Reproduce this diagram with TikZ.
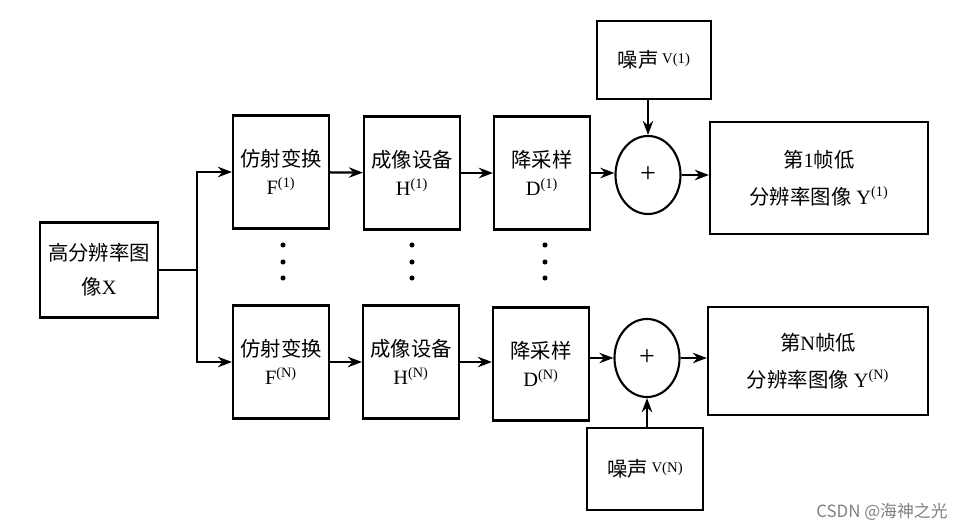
\documentclass[tikz,border=0pt]{standalone}
\usepackage{fontspec}
\setmainfont{Liberation Serif}
\newfontfamily\cjk{Noto Sans CJK SC}
\usetikzlibrary{shapes.geometric, arrows.meta, positioning, calc}
\tikzset{
  procbox/.style={rectangle, draw, line width=1.5pt, minimum width=2.4cm, minimum height=2.825cm, align=center, font=\fontsize{14.5}{20}\selectfont},
  inbox/.style={rectangle, draw, line width=1.5pt, minimum width=2.95cm, minimum height=2.375cm, align=center, font=\fontsize{14.5}{24}\selectfont},
  noisebox/.style={rectangle, draw, line width=1.5pt, minimum width=2.85cm, minimum height=1.95cm, align=center, font=\fontsize{14.5}{19}\selectfont},
  outbox/.style={rectangle, draw, line width=1.5pt, minimum width=5.45cm, minimum height=2.8cm, align=center, font=\fontsize{14.5}{26}\selectfont},
  sumnode/.style={ellipse, draw, line width=1.5pt, minimum width=1.625cm, minimum height=1.95cm, font=\fontsize{20}{22}\selectfont},
  arr/.style={-{Stealth[length=3.5mm, width=2.6mm]}, line width=1.6pt},
}
\newcommand{\noiselbl}[1]{{\cjk 噪声}\,\raisebox{0.45ex}{\fontsize{10.5}{12}\selectfont V(#1)}}

\begin{document}
\begin{tikzpicture}[x=0.025cm, y=-0.025cm]
  \useasboundingbox (0,0) rectangle (967,530);

  % Input
  \node[inbox] (X) at (99,270) {{\cjk 高分辨率图}\\{\cjk 像}X};
  \coordinate (split) at (197,270);

  % Frame 1
  \node[procbox] (F1) at (281,172) {{\cjk 仿射变换}\\F\textsuperscript{(1)}};
  \node[procbox] (H1) at (412,173) {{\cjk 成像设备}\\H\textsuperscript{(1)}};
  \node[procbox] (D1) at (542,173) {{\cjk 降采样}\\D\textsuperscript{(1)}};
  \node[sumnode] (sum1) at (648,175) {+};
  \node[noisebox] (V1) at (654,60) {\noiselbl{1}};
  \node[outbox] (Y1) at (819,178) {{\cjk 第}1{\cjk 帧低}\\{\cjk 分辨率图像} Y\textsuperscript{(1)}};

  % Frame N
  \node[procbox] (FN) at (281,362) {{\cjk 仿射变换}\\F\textsuperscript{(N)}};
  \node[procbox] (HN) at (411,362) {{\cjk 成像设备}\\H\textsuperscript{(N)}};
  \node[procbox] (DN) at (541,364) {{\cjk 降采样}\\D\textsuperscript{(N)}};
  \node[sumnode] (sumN) at (647,358) {+};
  \node[noisebox, minimum width=2.9cm, minimum height=2.05cm] (VN) at (645,469) {\noiselbl{N}};
  \node[outbox, minimum width=5.5cm, minimum height=2.7cm] (YN) at (818,361) {{\cjk 第}N{\cjk 帧低}\\{\cjk 分辨率图像} Y\textsuperscript{(N)}};

  % Dots
  \foreach \cx in {283,412,545}
    \foreach \cy in {245,262,278}
      \fill (\cx,\cy) circle (1.8pt);

  % Arrows
  \draw[line width=1.6pt] (X.east) -- (split);
  \draw[arr] (split) |- (F1.west);
  \draw[arr] (split) |- (FN.west);
  \draw[arr] (F1) -- (H1);
  \draw[arr] (H1) -- (D1);
  \draw[arr] (D1.east) -- (D1.east -| sum1.west);
  \draw[arr] (sum1.east) -- (sum1.east -| Y1.west);
  \draw[arr] (V1.south -| sum1.north) -- (sum1.north);
  \draw[arr] (FN) -- (HN);
  \draw[arr] (HN.east) -- (HN.east -| DN.west);
  \draw[arr] (DN.east |- sumN.west) -- (sumN.west);
  \draw[arr] (sumN.east) -- (sumN.east -| YN.west);
  \draw[arr] (VN.north -| sumN.south) -- (sumN.south);

  % Watermark
  \node[text=gray, font=\cjk\fontsize{12}{14}\selectfont] (mark) at (882,512) {CSDN @海神之光};
\end{tikzpicture}
\end{document}
